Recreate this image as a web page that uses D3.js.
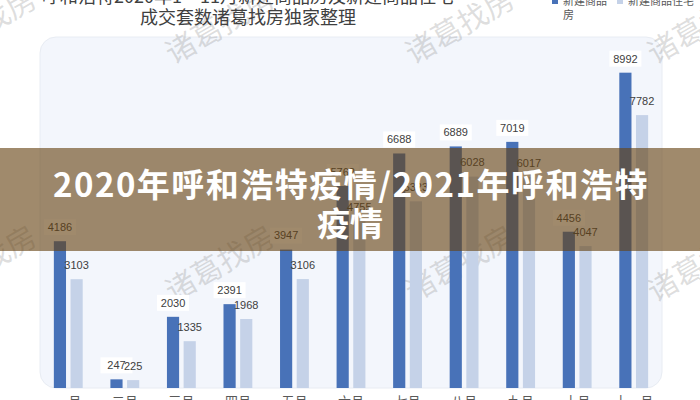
<!DOCTYPE html>
<html><head><meta charset="utf-8">
<script src="https://cdn.jsdelivr.net/npm/d3@7"></script>
<style>html,body{margin:0;padding:0;background:#fff;overflow:hidden}</style>
</head><body>
<svg id="chart" width="700" height="400"></svg>
<script>
const titleLines = ["呼和浩特2020年1－11月新建商品房及新建商品住宅", "成交套数诸葛找房独家整理"];
const months = ["一月","二月","三月","四月","五月","六月","七月","八月","九月","十月","十一月"];
const seriesNames = ["新建商品房","新建商品住宅"];
const houseValues = [4186,247,2030,2391,3947,5762,6688,6889,7019,4456,8992];
const residentialValues = [3103,225,1335,1968,3106,4755,5323,6028,6017,4047,7782];
const bannerLines = ["2020年呼和浩特疫情/2021年呼和浩特", "疫情"];
const watermarkText = "诸葛找房";

const svg = d3.select("#chart");
const colors = ["#4872b8", "#c5d2e8"];
const cjk = "'Noto Sans CJK SC', 'Noto Sans', sans-serif";

// panel
svg.append("rect").attr("x", 40).attr("y", 37).attr("width", 622).attr("height", 351)
  .attr("rx", 16).attr("fill", "#f3f6fc").attr("stroke", "#e8ecf3").attr("stroke-width", 1);

const x0 = d3.scaleBand().domain(months).range([40, 662]).paddingInner(0.49).paddingOuter(0.245);
const x1 = d3.scaleBand().domain([0, 1]).range([0, x0.bandwidth()]).paddingInner(0.27);
const y = d3.scaleLinear().domain([0, 9000]).range([388, 72.4]);

const rows = months.map((m, i) => ({m, vals: [houseValues[i], residentialValues[i]]}));

// watermarks
const wm = svg.append("g").attr("class", "watermark");
[-12, 226].forEach(cy => {
  [-18, 220, 460, 702].forEach(cx => {
    wm.append("text").attr("transform", `translate(${cx},${cy}) rotate(-30)`)
      .attr("text-anchor", "middle").attr("dy", "0.35em")
      .attr("font-family", cjk).attr("font-size", 30)
      .attr("fill", "#8a8a8a").attr("fill-opacity", 0.28).text(watermarkText);
  });
});
wm.attr("transform", "translate(0,38)");

// bars
const g = svg.append("g");
rows.forEach(r => {
  r.vals.forEach((v, s) => {
    g.append("rect").attr("x", x0(r.m) + x1(s)).attr("y", y(v))
      .attr("width", x1.bandwidth()).attr("height", y(0) - y(v)).attr("fill", colors[s]);
  });
});

// labels
const lg = svg.append("g").attr("font-family", "'Liberation Sans', Arial, sans-serif")
  .attr("font-size", 11).attr("fill", "#404040").attr("text-anchor", "middle");
rows.forEach(r => {
  const cx = x0(r.m) + x1(0) + x1.bandwidth() / 2;
  lg.append("rect").attr("x", cx - 16).attr("y", y(r.vals[0]) - 22).attr("width", 32).attr("height", 16)
    .attr("fill", "#fff");
});
rows.forEach(r => {
  r.vals.forEach((v, s) => {
    const cx = x0(r.m) + x1(s) + x1.bandwidth() / 2;
    lg.append("text").attr("x", cx).attr("y", y(v) - 14).attr("dy", "0.35em").text(v);
  });
});

// x axis labels
const xAxis = d3.axisBottom(x0).tickSize(0).tickPadding(9);
const ax = svg.append("g").attr("transform", "translate(0,388)").call(xAxis);
ax.select(".domain").remove();
ax.selectAll("text").attr("font-family", cjk).attr("font-size", 13).attr("fill", "#595959");

// title
svg.append("g").attr("font-family", cjk).attr("font-size", 18).attr("fill", "#404040")
  .attr("text-anchor", "middle")
  .selectAll("text").data(titleLines).join("text")
  .attr("x", 248).attr("y", (d, i) => 3 + i * 21).text(d => d);

// legend
const leg = svg.append("g").attr("font-family", cjk).attr("font-size", 11).attr("fill", "#595959");
leg.append("rect").attr("x", 552).attr("y", -2).attr("width", 6).attr("height", 6).attr("fill", colors[0]);
leg.append("text").attr("x", 563).attr("y", 5).text(seriesNames[0].slice(0, 4));
leg.append("text").attr("x", 563).attr("y", 19).text(seriesNames[0].slice(4));
leg.append("rect").attr("x", 617).attr("y", -2).attr("width", 6).attr("height", 6).attr("fill", colors[1]);
leg.append("text").attr("x", 628).attr("y", 5).text(seriesNames[1]);

// banner overlay
svg.append("rect").attr("x", 0).attr("y", 148).attr("width", 700).attr("height", 103)
  .attr("fill", "rgb(102,66,18)").attr("fill-opacity", 0.62);
svg.append("g").attr("font-family", cjk).attr("font-weight", 700).attr("font-size", 33)
  .attr("fill", "#fff").attr("text-anchor", "middle")
  .selectAll("text").data(bannerLines).join("text")
  .attr("letter-spacing", (d, i) => i === 0 ? 1.5 : 0)
  .attr("x", (d, i) => i === 0 ? 351 : 350)
  .attr("y", (d, i) => 197 + i * 39).text(d => d);
</script>
</body></html>
